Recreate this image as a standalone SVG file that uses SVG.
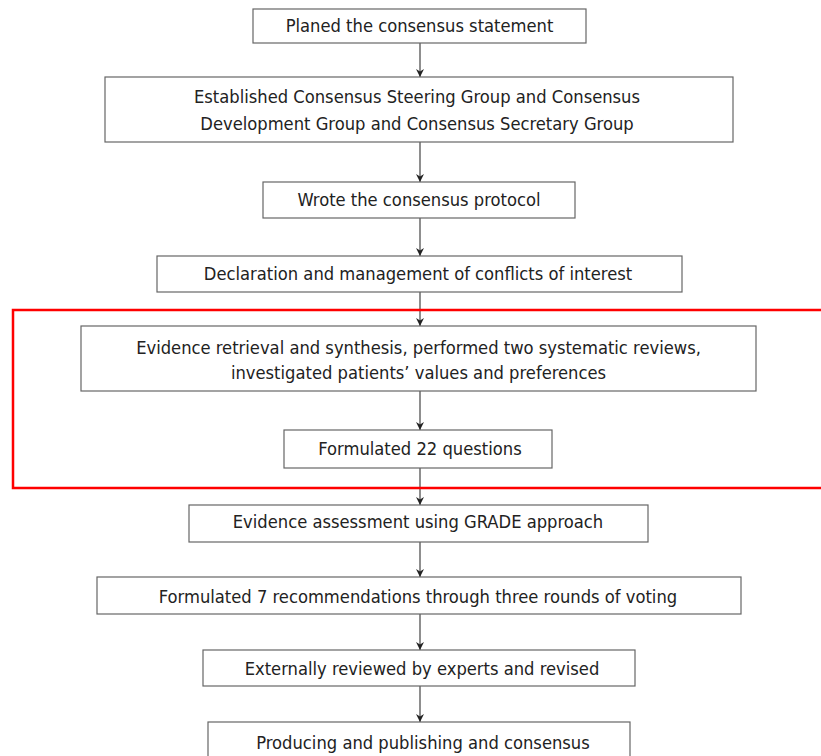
<svg xmlns="http://www.w3.org/2000/svg" width="821" height="756" viewBox="0 0 821 756">
<defs>
<marker id="ah" viewBox="0 0 10 10" refX="10" refY="5" markerWidth="10" markerHeight="8" markerUnits="userSpaceOnUse" orient="auto">
<path d="M0,0 L10,5 L0,10 L3,5 Z" fill="#222"/>
</marker>
</defs>
<style>
.box{fill:#fff;stroke:#666;stroke-width:1.2}
.t{font-family:"DejaVu Sans Condensed","DejaVu Sans",sans-serif;font-size:18.2px;fill:#222;text-anchor:middle}
.c{stroke:#444;stroke-width:1.2;fill:none;marker-end:url(#ah)}
</style>
<rect width="821" height="756" fill="#fff"/>
<g id="connectors">
<line class="c" x1="420" y1="43" x2="420" y2="77"/>
<line class="c" x1="420" y1="142" x2="420" y2="182"/>
<line class="c" x1="420" y1="218" x2="420" y2="256"/>
<line class="c" x1="420" y1="292" x2="420" y2="326"/>
<line class="c" x1="420" y1="391" x2="420" y2="430"/>
<line class="c" x1="420" y1="468" x2="420" y2="505"/>
<line class="c" x1="420" y1="542" x2="420" y2="577"/>
<line class="c" x1="420" y1="614" x2="420" y2="650"/>
<line class="c" x1="420" y1="686" x2="420" y2="722"/>
</g>
<g id="highlight">
<rect x="13" y="310" width="820" height="178" fill="none" stroke="#f00" stroke-width="2.5"/>
</g>
<g id="n1"><rect class="box" x="253" y="9" width="333" height="34"/><text class="t" x="419.5" y="32">Planed the consensus statement</text></g>
<g id="n2"><rect class="box" x="105" y="77" width="628" height="65"/><text class="t" x="417" y="103">Established Consensus Steering Group and Consensus</text><text class="t" x="417" y="130">Development Group and Consensus Secretary Group</text></g>
<g id="n3"><rect class="box" x="263" y="182" width="312" height="36"/><text class="t" x="419" y="206">Wrote the consensus protocol</text></g>
<g id="n4"><rect class="box" x="157" y="256" width="525" height="36"/><text class="t" x="418" y="280">Declaration and management of conflicts of interest</text></g>
<g id="n5"><rect class="box" x="81" y="326" width="675" height="65"/><text class="t" x="418.5" y="354">Evidence retrieval and synthesis, performed two systematic reviews,</text><text class="t" x="418.5" y="379">investigated patients’ values and preferences</text></g>
<g id="n6"><rect class="box" x="284" y="430" width="268" height="38"/><text class="t" x="420" y="455">Formulated 22 questions</text></g>
<g id="n7"><rect class="box" x="189" y="505" width="459" height="37"/><text class="t" x="418" y="528">Evidence assessment using GRADE approach</text></g>
<g id="n8"><rect class="box" x="97" y="577" width="644" height="37"/><text class="t" x="418" y="603">Formulated 7 recommendations through three rounds of voting</text></g>
<g id="n9"><rect class="box" x="203" y="650" width="432" height="36"/><text class="t" x="422" y="675">Externally reviewed by experts and revised</text></g>
<g id="n10"><rect class="box" x="208" y="722" width="422" height="40"/><text class="t" x="423" y="749">Producing and publishing and consensus</text></g>
</svg>
